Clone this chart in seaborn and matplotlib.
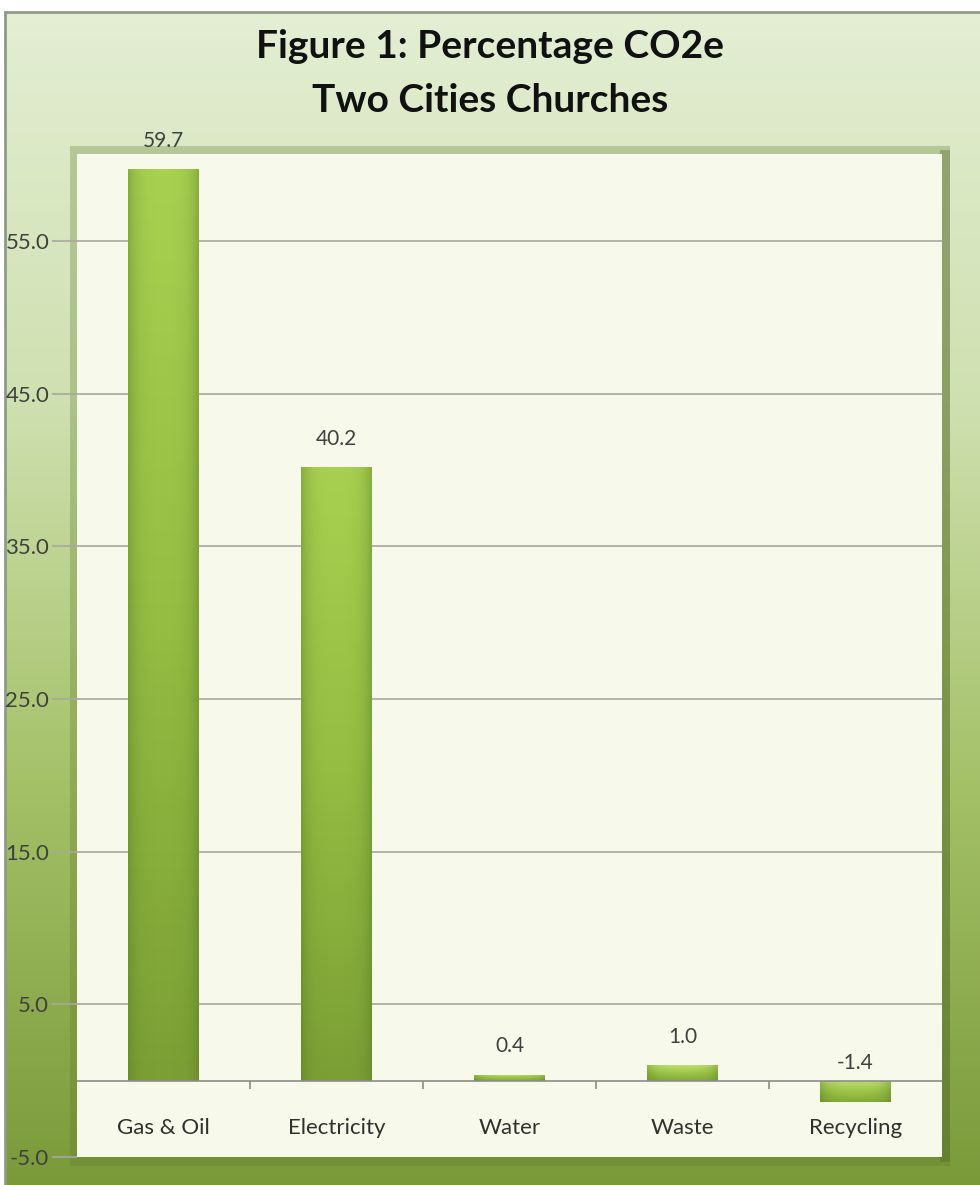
import numpy as np
import pandas as pd
import matplotlib
matplotlib.use("Agg")
import matplotlib.pyplot as plt
from matplotlib.colors import LinearSegmentedColormap
import seaborn as sns

categories = ["Gas & Oil", "Electricity", "Water", "Waste", "Recycling"]
values = [59.7, 40.2, 0.4, 1.0, -1.4]
ytick_values = [-5, 5, 15, 25, 35, 45, 55]
title_lines = ["Figure 1: Percentage CO2e", "Two Cities Churches"]

sns.set_theme(style="white")
plt.rcParams["font.family"] = ["Lato", "DejaVu Sans"]

W, H = 980, 1185
fig = plt.figure(figsize=(W / 100, H / 100), dpi=100)
fig.patch.set_facecolor("white")

# background frame gradient
bg = fig.add_axes([0, 0, 1, 1])
bg.set_xlim(0, W)
bg.set_ylim(H, 0)
bg.axis("off")
frame_cmap = LinearSegmentedColormap.from_list("frame", ["#e3eed3", "#cfe0b0", "#a3c066", "#7a9a3a"])
grad = np.linspace(0, 1, 256).reshape(-1, 1)
bg.imshow(grad, extent=[5, W, H, 12], cmap=frame_cmap, aspect="auto", zorder=0)
bg.plot([5, W], [12, 12], color="#909a88", lw=2, zorder=1)
bg.plot([5, 5], [12, H], color="#909a88", lw=2, zorder=1)
# bevel shading near the panel
bg.add_patch(plt.Rectangle((70, 146), 880, 1020, facecolor="#5f7a2c", alpha=0.3, zorder=1, lw=0))
bg.add_patch(plt.Rectangle((940, 150), 10, 1012, facecolor="#4e6324", alpha=0.35, zorder=1, lw=0))

for i, line in enumerate(title_lines):
    bg.text(490, 47 + i * 53, line, ha="center", va="center", fontsize=28,
            fontweight="bold", color="#111111", zorder=3)

# main axes
left, right = 77, 942
top, bottom = 154, 1157
ax = fig.add_axes([left / W, 1 - bottom / H, (right - left) / W, (bottom - top) / H])
ax.set_facecolor("#f7faea")

df = pd.DataFrame({"category": categories, "value": values})
sns.barplot(data=df, x="category", y="value", ax=ax, width=0.405,
            color="#99c145", saturation=1, edgecolor="none", zorder=3)

bar_cmap_tall = LinearSegmentedColormap.from_list("bt", ["#a8d050", "#94bd42", "#7c9f35"])
bar_cmap_small = LinearSegmentedColormap.from_list("bs", ["#bfe070", "#9cc646", "#84a83a"])
for p, v in zip(ax.patches, values):
    x0 = p.get_x()
    w = p.get_width()
    y0 = p.get_y()
    h = p.get_height()
    ylo, yhi = min(y0, y0 + h), max(y0, y0 + h)
    cm = bar_cmap_tall if abs(v) > 5 else bar_cmap_small
    im = ax.imshow(np.linspace(0, 1, 128).reshape(-1, 1), extent=[x0, x0 + w, ylo, yhi],
                   cmap=cm, aspect="auto", zorder=3.5, origin="upper")
    im.set_clip_path(p)
    im2 = ax.imshow(np.abs(np.linspace(-1, 1, 64)).reshape(1, -1) ** 3, extent=[x0, x0 + w, ylo, yhi],
                    cmap=LinearSegmentedColormap.from_list("sh", [(0.4, 0.55, 0.2, 0.0), (0.3, 0.42, 0.12, 0.35)]),
                    aspect="auto", zorder=3.6)
    im2.set_clip_path(p)
    label_y = max(v, 0) + 1.2 if v >= 0 else 0.5
    ax.text(p.get_x() + w / 2, label_y, f"{v:.1f}", ha="center", va="bottom",
            fontsize=15, color="#404040", zorder=5)

ax.set_autoscale_on(False)
ax.set_ylim(-5, 60.7)
ax.set_xlim(-0.5, len(categories) - 0.5)

for yv in ytick_values[1:]:
    ax.axhline(yv, color="#a8a8a0", lw=1.2, zorder=1)
ax.axhline(0, color="#8c8c88", lw=1.2, zorder=4)
ax.vlines([i + 0.5 for i in range(len(categories) - 1)], -0.55, 0, color="#8c8c88", lw=1.2, zorder=4)

for i, c in enumerate(categories):
    ax.text(i, -3.1, c, ha="center", va="center", fontsize=16, color="#303030", zorder=5)

ax.set_xticks([])
ax.set_xlabel("")
ax.set_ylabel("")
ax.set_yticks(ytick_values)
ax.set_yticklabels([f"{v:.1f}" for v in ytick_values], color="#404040", fontsize=16)
ax.tick_params(axis="y", length=18, width=1.2, color="#a8a8a0", pad=2, left=True)
for s in ax.spines.values():
    s.set_visible(False)

fig.savefig("out.png", dpi=100)
